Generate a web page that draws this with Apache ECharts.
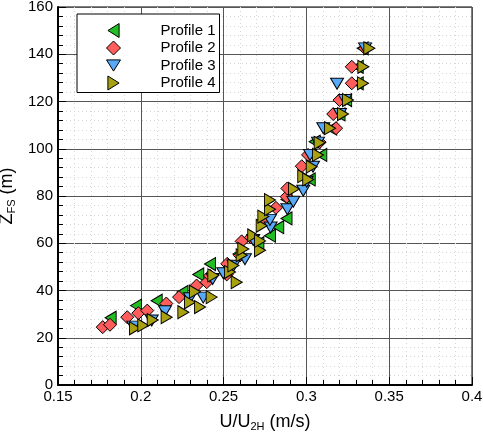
<!DOCTYPE html>
<html>
<head>
<meta charset="utf-8">
<script src="https://cdn.jsdelivr.net/npm/echarts@6/dist/echarts.min.js"></script>
<style>
  html, body { margin: 0; padding: 0; background: #fff; }
  #chart { width: 483px; height: 438px; }
</style>
</head>
<body>
<div id="chart"></div>
<script>
// Velocity profiles: [U/U2H, Z_FS] pairs for each measured profile
const profile1 = [
  [0.1818, 28.5], [0.1971, 33.6], [0.2096, 35.7], [0.2252, 39.4], [0.2347, 46.8],
  [0.2418, 51.2], [0.2590, 55.5], [0.2710, 60.0], [0.2780, 63.2], [0.2830, 66.8],
  [0.2880, 70.5], [0.2880, 78.5], [0.3020, 87.0], [0.3090, 97.4], [0.3050, 103.0],
  [0.3150, 108.5], [0.3200, 114.5], [0.3240, 120.6], [0.3310, 127.7], [0.3310, 134.7],
  [0.3340, 142.5]
];
const profile2 = [
  [0.1770, 24.5], [0.1814, 25.5], [0.1918, 28.7], [0.1985, 30.4], [0.2039, 31.5],
  [0.2154, 34.5], [0.2231, 37.2], [0.2337, 42.1], [0.2398, 43.5], [0.2418, 46.2],
  [0.2519, 46.8], [0.2522, 51.3], [0.2599, 54.8], [0.2609, 60.8], [0.2665, 62.5],
  [0.2740, 69.5], [0.2816, 75.0], [0.2881, 79.7], [0.2885, 83.2], [0.2972, 92.6],
  [0.3010, 97.4], [0.3080, 102.8], [0.3179, 108.7], [0.3162, 114.7], [0.3200, 120.6],
  [0.3274, 127.7], [0.3274, 134.7], [0.3354, 142.5]
];
const profile3 = [
  [0.1955, 24.7], [0.2066, 27.3], [0.2146, 31.2], [0.2297, 36.7], [0.2377, 37.0],
  [0.2434, 44.9], [0.2498, 47.3], [0.2560, 50.5], [0.2629, 53.2], [0.2679, 61.4],
  [0.2784, 66.7], [0.2780, 69.9], [0.2885, 74.4], [0.2921, 77.6], [0.2981, 82.2],
  [0.3002, 86.0], [0.3040, 92.4], [0.3022, 97.4], [0.3070, 102.6], [0.3102, 108.7],
  [0.3203, 114.7], [0.3233, 120.6], [0.3185, 127.5], [0.3354, 142.5]
];
const profile4 = [
  [0.1965, 24.0], [0.2015, 25.2], [0.2072, 27.5], [0.2156, 28.7], [0.2257, 30.8],
  [0.2297, 35.0], [0.2358, 33.0], [0.2327, 39.5], [0.2428, 37.2], [0.2438, 46.4],
  [0.2539, 47.8], [0.2559, 50.6], [0.2579, 43.5], [0.2609, 54.9], [0.2619, 57.6],
  [0.2720, 57.0], [0.2679, 63.3], [0.2720, 61.0], [0.2730, 67.4], [0.2740, 71.3],
  [0.2780, 74.4], [0.2780, 78.3], [0.2925, 83.0], [0.2981, 88.4], [0.3011, 87.0],
  [0.3032, 92.4], [0.3070, 97.4], [0.3080, 102.5], [0.3143, 108.7], [0.3221, 114.7],
  [0.3251, 120.6], [0.3342, 127.7], [0.3344, 134.7], [0.3380, 142.5]
];

const seriesNames = ['Profile 1', 'Profile 2', 'Profile 3', 'Profile 4'];
const xRange = { min: 0.15, max: 0.4, interval: 0.05 };
const yRange = { min: 0, max: 160, interval: 20 };

const FONT = 'Liberation Sans, Arial, sans-serif';

// marker shapes as paths so the legend shows the same orientation
const TRI_LEFT = 'path://M0,50 L80,0 L80,100 Z';
const TRI_RIGHT = 'path://M80,50 L0,0 L0,100 Z';
const TRI_DOWN = 'path://M0,0 L100,0 L50,80 Z';
const DIAMOND = 'path://M50,0 L100,50 L50,100 L0,50 Z';

const markerStyles = [
  { symbol: TRI_LEFT, size: [11, 13], color: '#22bd22' },
  { symbol: DIAMOND, size: [13, 13], color: '#ff5c5c' },
  { symbol: TRI_DOWN, size: [13, 11], color: '#58a9f7' },
  { symbol: TRI_RIGHT, size: [11, 13], color: '#a9a110' }
];
const profiles = [profile1, profile2, profile3, profile4];

const chart = echarts.init(document.getElementById('chart'), null, { renderer: 'canvas' });

function axisCommon() {
  return {
    axisLine: { show: true, onZero: false, lineStyle: { color: '#000', width: 2 } },
    axisTick: { show: true, inside: true, length: 8, lineStyle: { color: '#000', width: 1 } },
    minorTick: { show: true, splitNumber: 5, length: 5, lineStyle: { color: '#000', width: 1 } },
    splitLine: { show: true, lineStyle: { color: '#555', width: 1 } },
    minorSplitLine: { show: true, lineStyle: { color: '#d6d6d6', width: 1, type: [1, 3] } }
  };
}

// axis titles with a lowered subscript
const nameRich = {
  a: { fontSize: 18, fontFamily: FONT, color: '#000', lineHeight: 19, verticalAlign: 'top' },
  b: { fontSize: 11, fontFamily: FONT, color: '#000', lineHeight: 19, verticalAlign: 'bottom' }
};

chart.setOption({
  animation: false,
  backgroundColor: '#fff',
  grid: {
    left: 58, right: 11, top: 7, bottom: 53,
    containLabel: false,
    outerBoundsMode: 'none',
    show: true, borderColor: '#000', borderWidth: 1, backgroundColor: 'transparent'
  },
  xAxis: Object.assign(axisCommon(), {
    type: 'value',
    min: xRange.min, max: xRange.max, interval: xRange.interval,
    name: '{a|U/U}{b|2H}{a| (m/s)}',
    nameLocation: 'middle',
    nameGap: 28,
    nameTextStyle: { color: '#000', fontFamily: FONT, rich: nameRich },
    axisLabel: {
      color: '#000', fontSize: 15, fontFamily: FONT, margin: 4,
      formatter: v => String(+v.toFixed(2))
    }
  }),
  yAxis: Object.assign(axisCommon(), {
    type: 'value',
    min: yRange.min, max: yRange.max, interval: yRange.interval,
    name: '{a|Z}{b|FS}{a| (m)}',
    nameLocation: 'middle',
    nameRotate: 90,
    nameGap: 24,
    nameTextStyle: { color: '#000', fontFamily: FONT, rich: nameRich },
    axisLabel: { color: '#000', fontSize: 15, fontFamily: FONT, margin: 5 }
  }),
  legend: {
    show: true,
    orient: 'vertical',
    left: 77, top: 14,
    padding: [9, 4, 2, 29],
    itemWidth: 14, itemHeight: 14, itemGap: 2.5,
    backgroundColor: '#fff',
    borderColor: '#000', borderWidth: 1, borderRadius: 0,
    textStyle: { color: '#000', fontSize: 15, lineHeight: 14, fontFamily: FONT, padding: [0, 0, 0, 35] },
    data: seriesNames.map((n, i) => ({
      name: n,
      icon: markerStyles[i].symbol,
      itemStyle: { color: markerStyles[i].color, borderColor: '#000', borderWidth: 1 }
    }))
  },
  series: profiles.map((data, i) => ({
    name: seriesNames[i],
    type: 'scatter',
    data: data,
    symbol: markerStyles[i].symbol,
    symbolSize: markerStyles[i].size,
    itemStyle: { color: markerStyles[i].color, borderColor: '#000', borderWidth: 1, opacity: 1 },
    emphasis: { disabled: true },
    z: 3 + i
  }))
});
</script>
</body>
</html>
